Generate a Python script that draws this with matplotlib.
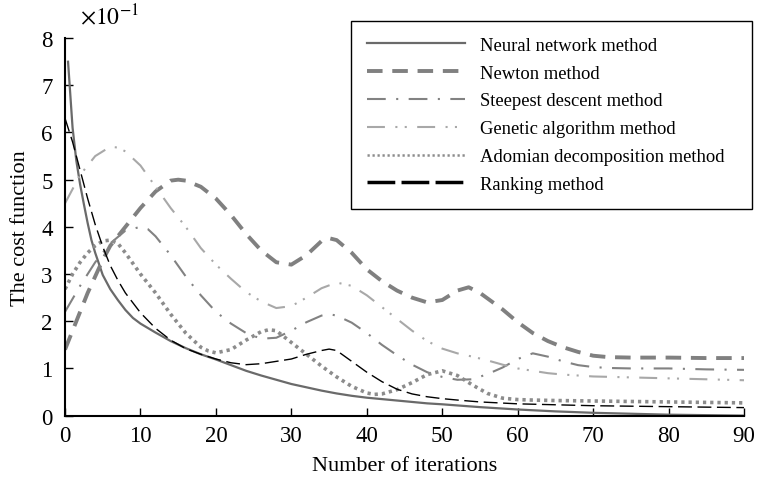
import matplotlib

matplotlib.use("Agg")
import matplotlib.pyplot as plt

plt.rcParams["font.family"] = ["Liberation Serif", "DejaVu Serif"]
plt.rcParams["mathtext.fontset"] = "stix"

# values in units of 1e-1
x_nn = [0.4, 1, 1.5, 2, 2.5, 3, 3.5, 4, 5, 6, 7, 8, 9, 10, 12, 14, 16, 18, 20, 22, 24, 26,
        28, 30, 32, 34, 36, 38, 40, 42, 44, 46, 48, 50, 55, 60, 65, 70, 75, 80, 85, 90]
neural = [7.5, 6.1, 5.4, 4.9, 4.48, 4.08, 3.72, 3.45, 2.98, 2.68, 2.45, 2.24, 2.07, 1.95,
          1.76, 1.58, 1.43, 1.3, 1.19, 1.07, 0.95, 0.85, 0.76, 0.67, 0.6, 0.53, 0.47,
          0.42, 0.38, 0.35, 0.32, 0.29, 0.26, 0.24, 0.18, 0.13, 0.09, 0.06, 0.04, 0.02,
          0.01, 0.0]

x_newton = [0, 1, 2, 3, 4, 5, 6, 7, 8, 10, 12, 14, 15, 16, 18, 20, 22, 24, 26, 28, 30, 32,
            34, 35, 36, 38, 40, 42, 44, 46, 48, 50, 52, 53.5, 55, 58, 60, 62, 64, 66, 68,
            70, 72, 75, 80, 85, 90]
newton = [1.4, 1.8, 2.2, 2.6, 2.95, 3.3, 3.6, 3.8, 4.0, 4.4, 4.75, 4.98, 5.0, 4.98, 4.85,
          4.6, 4.25, 3.85, 3.5, 3.25, 3.2, 3.4, 3.7, 3.76, 3.72, 3.45, 3.1, 2.85, 2.65, 2.5,
          2.4, 2.45, 2.65, 2.72, 2.6, 2.25, 1.98, 1.75, 1.58, 1.45, 1.35, 1.27, 1.24, 1.23,
          1.23, 1.22, 1.22]

x_steep = [0, 2, 4, 6, 8, 10, 11, 12, 14, 16, 18, 20, 22, 24, 26, 28, 30, 32, 34, 35, 36,
           38, 40, 42, 44, 46, 48, 50, 52, 54, 56, 58, 60, 62, 64, 66, 68, 70, 72, 75, 80,
           85, 90]
steepest = [2.2, 2.75, 3.25, 3.65, 3.92, 4.0, 3.95, 3.8, 3.4, 2.95, 2.55, 2.2, 1.95, 1.75,
            1.63, 1.65, 1.8, 1.98, 2.12, 2.15, 2.12, 1.97, 1.75, 1.5, 1.28, 1.08, 0.92,
            0.82, 0.76, 0.77, 0.88, 1.02, 1.2, 1.32, 1.25, 1.15, 1.07, 1.03, 1.01, 1.0,
            1.0, 0.98, 0.97]

x_genetic = [0, 2, 4, 6, 7, 8, 10, 12, 14, 16, 18, 20, 22, 24, 26, 28, 30, 32, 34, 36, 38,
             40, 42, 44, 46, 48, 50, 52, 54, 56, 58, 60, 62, 64, 66, 68, 70, 75, 80, 85, 90]
genetic = [4.5, 5.1, 5.5, 5.7, 5.68, 5.6, 5.3, 4.85, 4.4, 4.0, 3.55, 3.2, 2.9, 2.62, 2.42,
           2.28, 2.32, 2.5, 2.7, 2.82, 2.75, 2.55, 2.3, 2.05, 1.8, 1.58, 1.42, 1.32, 1.25,
           1.17, 1.08, 1.0, 0.95, 0.9, 0.87, 0.85, 0.83, 0.81, 0.79, 0.77, 0.75]

x_adomian = [0, 1, 2, 3, 4, 5, 6, 7, 8, 10, 12, 14, 16, 18, 19, 20, 22, 24, 26, 27, 28, 30,
             32, 34, 36, 38, 40, 41, 42, 44, 46, 48, 50, 52, 54, 56, 58, 60, 62, 65, 70, 75,
             80, 85, 90]
adomian = [2.68, 3.0, 3.25, 3.45, 3.6, 3.7, 3.72, 3.65, 3.45, 3.0, 2.6, 2.15, 1.75, 1.45,
           1.37, 1.33, 1.4, 1.6, 1.78, 1.82, 1.8, 1.55, 1.3, 1.05, 0.82, 0.62, 0.48, 0.45,
           0.46, 0.55, 0.7, 0.87, 0.95, 0.85, 0.65, 0.47, 0.37, 0.34, 0.33, 0.32, 0.31,
           0.3, 0.29, 0.28, 0.27]

x_ranking = [0, 1, 2, 3, 4, 5, 6, 7, 8, 10, 12, 14, 16, 18, 20, 22, 24, 26, 28, 30, 32, 34,
             35, 36, 38, 40, 42, 44, 46, 48, 50, 52, 55, 60, 65, 70, 75, 80, 85, 90]
ranking = [6.3, 5.8, 5.2, 4.6, 4.05, 3.58, 3.18, 2.87, 2.6, 2.18, 1.85, 1.6, 1.42, 1.3,
           1.2, 1.12, 1.08, 1.1, 1.15, 1.2, 1.3, 1.38, 1.41, 1.38, 1.15, 0.92, 0.72, 0.56,
           0.46, 0.4, 0.36, 0.33, 0.29, 0.25, 0.23, 0.21, 0.2, 0.19, 0.18, 0.17]

fig = plt.figure(figsize=(7.57, 4.89), dpi=100)
ax = fig.add_axes([0.0859, 0.148, 0.897, 0.772])

ax.plot(x_nn, neural, color="#6a6a6a", lw=1.6, label="Neural network method")
ax.plot(x_newton, newton, color="#808080", lw=2.8, dashes=(4, 2.5),
        label="Newton method")
ax.plot(x_steep, steepest, color="#828282", lw=1.5, dashes=(9, 5, 1, 5),
        label="Steepest descent method")
ax.plot(x_genetic, genetic, color="#a8a8a8", lw=1.5, dashes=(8.6, 5, 1, 3.5, 1, 5),
        label="Genetic algorithm method")
ax.plot(x_adomian, adomian, color="#8c8c8c", lw=2.6, dashes=(0.9, 1.1),
        label="Adomian decomposition method")
ax.plot(x_ranking, ranking, color="black", lw=1.0, dashes=(10, 4),
        label="Ranking method")

ax.set_xlim(0, 90)
ax.set_ylim(0, 8)
ax.set_xticks(range(0, 91, 10))
ax.set_yticks(range(0, 9))
ax.tick_params(direction="in", length=6, width=1, labelsize=16.5)
ax.tick_params(axis="x", pad=7)
ax.tick_params(axis="y", pad=9)
ax.spines["top"].set_visible(False)
ax.spines["right"].set_visible(False)
for s in ("left", "bottom"):
    ax.spines[s].set_linewidth(1.5)

ax.set_xlabel("Number of iterations", fontsize=16, labelpad=7)
ax.set_ylabel("The cost function", fontsize=16, labelpad=8)
ax.text(0.022, 1.058, r"$\times10^{-1}$", transform=ax.transAxes, fontsize=17,
        ha="left", va="center")

leg = ax.legend(loc="upper left", bbox_to_anchor=(351 / 757, 1 - 22 / 489, 401 / 757, 0),
                bbox_transform=fig.transFigure, mode="expand", fontsize=13.4,
                handlelength=5.3, labelspacing=0.58, fancybox=False, framealpha=1,
                borderpad=0.85, handletextpad=0.8, borderaxespad=0)
leg.get_frame().set_edgecolor("black")
leg.get_frame().set_linewidth(1.0)
handles = leg.get_lines()
handles[4].set_linewidth(1.8)
handles[4].set_dashes((0.9, 1.1))
handles[5].set_linewidth(2.5)
handles[5].set_dashes((8, 1.8))

fig.savefig("out.png", dpi=100)
